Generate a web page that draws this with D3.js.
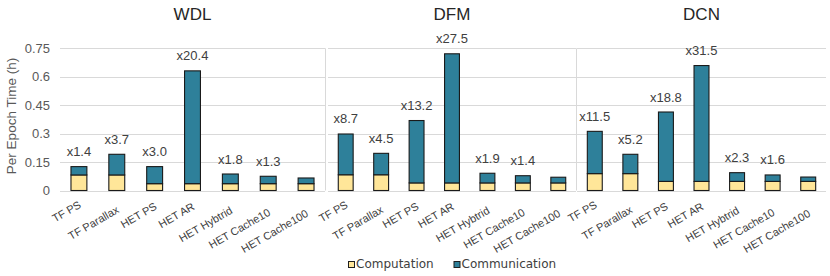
<!DOCTYPE html>
<html>
<head>
<meta charset="utf-8">
<script src="https://cdn.jsdelivr.net/npm/d3@7"></script>
<style>
  body { margin: 0; background: #fff; }
  text { font-family: "Liberation Sans", Arial, sans-serif; }
</style>
</head>
<body>
<div id="wrapper"></div>
<script>
// data
let models = ['WDL', 'DFM', 'DCN'];
let categories = ['TF PS', 'TF Parallax', 'HET PS', 'HET AR', 'HET Hybtrid', 'HET Cache10', 'HET Cache100'];
let seriesNames = ['Computation', 'Communication'];
let computation = [
    [0.082, 0.082, 0.036, 0.036, 0.036, 0.036, 0.036],
    [0.083, 0.083, 0.040, 0.040, 0.040, 0.040, 0.040],
    [0.089, 0.089, 0.048, 0.048, 0.048, 0.048, 0.048]
];
let communication = [
    [0.044, 0.109, 0.090, 0.595, 0.051, 0.039, 0.030],
    [0.215, 0.113, 0.329, 0.681, 0.051, 0.038, 0.030],
    [0.223, 0.102, 0.366, 0.611, 0.046, 0.034, 0.023]
];
let speedups = [
    ['x1.4', 'x3.7', 'x3.0', 'x20.4', 'x1.8', 'x1.3', ''],
    ['x8.7', 'x4.5', 'x13.2', 'x27.5', 'x1.9', 'x1.4', ''],
    ['x11.5', 'x5.2', 'x18.8', 'x31.5', 'x2.3', 'x1.6', '']
];
let yTicks = [0, 0.15, 0.3, 0.45, 0.6, 0.75];

let width = 830, height = 276;
let colors = { 'Computation': '#FFE699', 'Communication': '#2E809A' };
let panelX = [[60, 325], [328, 576], [577, 826]];

let svg = d3.select('#wrapper')
    .append('svg')
    .attr('width', width)
    .attr('height', height);

let y = d3.scaleLinear().domain([0, 0.75]).range([190.5, 48.3]);

// y axis
let yAxis = svg.append('g')
    .attr('transform', 'translate(60,0)')
    .call(d3.axisLeft(y).tickValues(yTicks).tickSize(0).tickPadding(10).tickFormat(d3.format('~g')));
yAxis.select('.domain').remove();
yAxis.selectAll('text').attr('font-size', 13).attr('fill', '#595959');

svg.append('text')
    .attr('transform', 'translate(16,116) rotate(-90)')
    .attr('text-anchor', 'middle')
    .attr('font-size', 13.5)
    .attr('fill', '#595959')
    .text('Per Epoch Time (h)');

// separators between panels
svg.selectAll('line.sep')
    .data([325.5, 576.5])
    .enter()
    .append('line')
    .attr('x1', d => d).attr('x2', d => d)
    .attr('y1', y(0.75)).attr('y2', y(0))
    .attr('stroke', '#d9d9d9');

models.forEach(function (model, m) {
    let x = d3.scaleBand()
        .domain(categories)
        .range(panelX[m])
        .paddingInner(0.58)
        .paddingOuter(0.29);

    let g = svg.append('g');

    g.selectAll('line.grid')
        .data(yTicks)
        .enter()
        .append('line')
        .attr('x1', panelX[m][0]).attr('x2', panelX[m][1])
        .attr('y1', d => Math.round(y(d)) + 0.5).attr('y2', d => Math.round(y(d)) + 0.5)
        .attr('stroke', '#d9d9d9');

    g.append('text')
        .attr('x', (panelX[m][0] + panelX[m][1]) / 2)
        .attr('y', 20)
        .attr('text-anchor', 'middle')
        .attr('font-size', 17)
        .attr('fill', '#262626')
        .text(model);

    let rows = categories.map(function (c, i) {
        return { cat: c, Computation: computation[m][i], Communication: communication[m][i] };
    });
    let stacked = d3.stack().keys(seriesNames)(rows);

    g.selectAll('g.series')
        .data(stacked)
        .enter()
        .append('g')
        .attr('fill', d => colors[d.key])
        .selectAll('rect')
        .data(d => d)
        .enter()
        .append('rect')
        .attr('x', d => x(d.data.cat))
        .attr('y', d => y(d[1]))
        .attr('width', x.bandwidth())
        .attr('height', d => y(d[0]) - y(d[1]))
        .attr('stroke', '#1a1a1a')
        .attr('stroke-width', 1.1);

    g.selectAll('text.lab')
        .data(rows)
        .enter()
        .append('text')
        .attr('x', d => x(d.cat) + x.bandwidth() / 2)
        .attr('y', d => y(d.Computation + d.Communication) - 10.5)
        .attr('text-anchor', 'middle')
        .attr('font-size', 13)
        .attr('fill', '#404040')
        .text((d, i) => speedups[m][i]);

    // rotated category labels
    g.selectAll('text.cat')
        .data(categories)
        .enter()
        .append('text')
        .attr('text-anchor', 'end')
        .attr('font-size', 11)
        .attr('fill', '#404040')
        .text(d => d)
        .attr('transform', function (d) {
            let len = this.getComputedTextLength();
            let cx = x(d) + x.bandwidth() / 2 + 3;
            let cy = 206 + 0.2 * (len - 26);
            return 'translate(' + cx + ',' + cy + ') rotate(-30)';
        });
});

// legend
let legendX = [348, 453.5];
let legend = svg.selectAll('g.legend')
    .data(seriesNames)
    .enter()
    .append('g')
    .attr('transform', (d, i) => 'translate(' + legendX[i] + ',0)');
legend.append('rect')
    .attr('x', 0.5).attr('y', 261.5)
    .attr('width', 6).attr('height', 6)
    .attr('fill', d => colors[d])
    .attr('stroke', '#1f1f1f');
legend.append('text')
    .attr('x', 8)
    .attr('y', 268)
    .attr('font-size', 12)
    .style('font-family', '"DejaVu Sans", sans-serif')
    .attr('fill', '#404040')
    .text(d => d);
</script>
</body>
</html>
